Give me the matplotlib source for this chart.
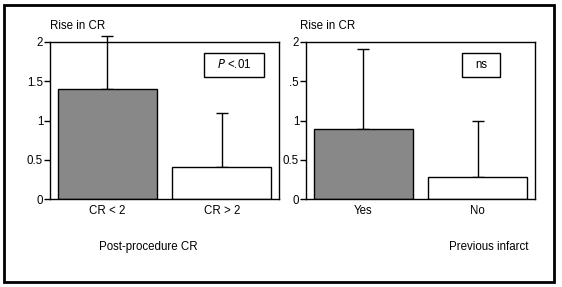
import matplotlib
matplotlib.use('Agg')
import matplotlib.pyplot as plt
from matplotlib.patches import Rectangle

plt.rcParams['font.family'] = ['Liberation Sans Narrow', 'Liberation Sans', 'DejaVu Sans']
plt.rcParams['font.size'] = 8.3

# data
cats_left = ['CR < 2', 'CR > 2']
means_left = [1.40, 0.41]
sd_left = [0.68, 0.69]

cats_right = ['Yes', 'No']
means_right = [0.89, 0.28]
sd_right = [1.02, 0.71]

bar_colors = ['#888888', 'white']
ytick_vals = [0, 0.5, 1, 1.5, 2]
ytick_left = ['0', '0.5', '1', '1.5', '2']
ytick_right = ['0', '0.5', '1', '.5', '2']

W, H = 562, 287
fig = plt.figure(figsize=(W / 100, H / 100), dpi=100)

# outer frame
fig.patches.append(Rectangle((4 / W, 1 - 282 / H), 550 / W, 277 / H,
                             transform=fig.transFigure, fill=False,
                             edgecolor='black', linewidth=2))


def panel(left_px, cats, means, sds, yticklabels, title_x, note, note_box, xlabel, xlabel_x):
    ax = fig.add_axes([left_px / W, 1 - 199 / H, 229 / W, 157 / H])
    x = list(range(len(cats)))
    ax.bar(x, means, width=0.865, color=bar_colors, edgecolor='black', linewidth=1, zorder=2)
    ax.errorbar(x, means, yerr=[[0] * len(sds), sds], fmt='none', ecolor='black',
                elinewidth=1, capsize=4.3, capthick=1, zorder=1, clip_on=False)
    ax.set_xlim(-0.5, 1.5)
    ax.set_ylim(0, 2)
    ax.set_yticks(ytick_vals)
    ax.set_yticklabels(yticklabels)
    ax.set_xticks(x)
    ax.set_xticklabels(cats)
    ax.tick_params(axis='x', length=0, pad=4)
    ax.tick_params(axis='y', length=4, width=1, pad=1)
    for s in ax.spines.values():
        s.set_linewidth(1)
    fig.text(title_x / W, 1 - 26 / H, 'Rise in CR', ha='left', va='center')
    bx0, by0, bx1, by1 = note_box
    fig.patches.append(Rectangle((bx0 / W, 1 - by1 / H), (bx1 - bx0) / W, (by1 - by0) / H,
                                 transform=fig.transFigure, fill=False,
                                 edgecolor='black', linewidth=1, zorder=5))
    fig.text((bx0 + bx1) / 2 / W, 1 - (by0 + by1) / 2 / H, note, ha='center', va='center')
    fig.text(xlabel_x / W, 1 - 247 / H, xlabel, ha='center', va='center')
    return ax


panel(50, cats_left, means_left, sd_left, ytick_left, 50,
      r'$\it{P}$ <.01', (204, 53, 264, 77), 'Post-procedure CR', 148)
panel(306, cats_right, means_right, sd_right, ytick_right, 300,
      'ns', (462, 53, 500, 77), 'Previous infarct', 489)

fig.savefig('out.png', dpi=100)
